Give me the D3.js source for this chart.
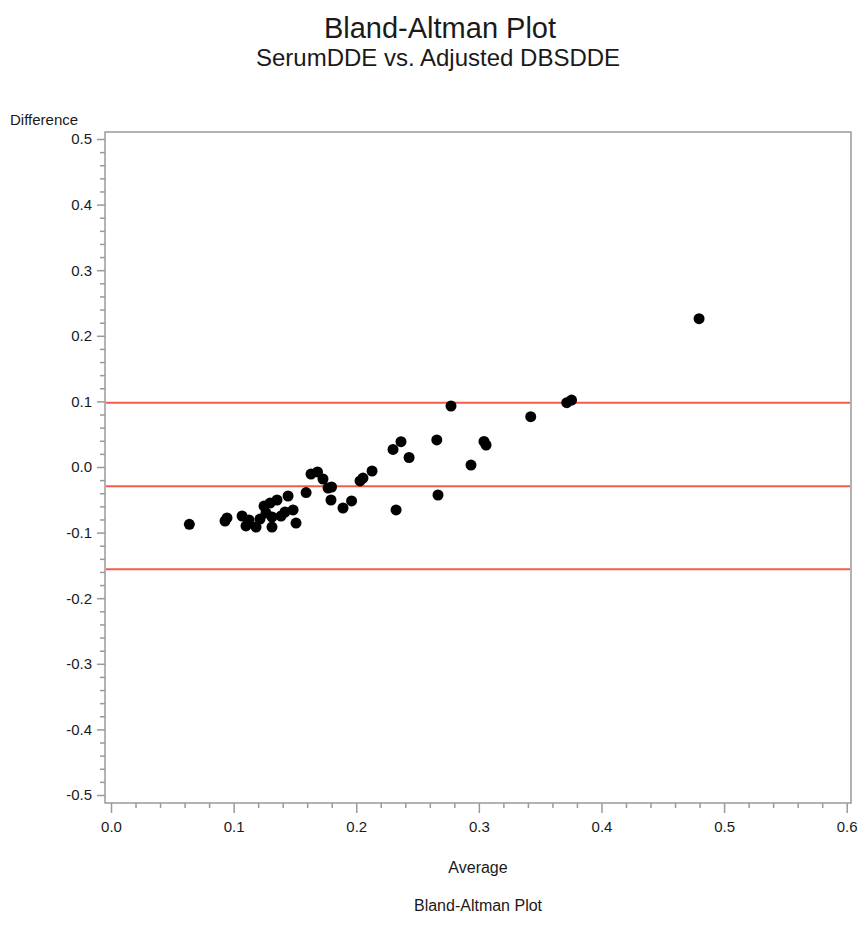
<!DOCTYPE html>
<html>
<head>
<meta charset="utf-8">
<script src="https://cdn.jsdelivr.net/npm/d3@7"></script>
<style>
  body { margin: 0; background: #fff; }
  text { font-family: "Liberation Sans", Arial, sans-serif; fill: #1a1a1a; }
</style>
</head>
<body>
<div id="chart"></div>
<script>
// data
var averages = [0.0639, 0.0930, 0.0946, 0.1069, 0.1101, 0.1126, 0.1183, 0.1215, 0.1248, 0.1264,
  0.1297, 0.1313, 0.1313, 0.1354, 0.1387, 0.1419, 0.1444, 0.1485, 0.1509, 0.1591,
  0.1631, 0.1684, 0.1729, 0.1799, 0.1794, 0.1770, 0.1892, 0.1962, 0.2031, 0.2055,
  0.2129, 0.2300, 0.2365, 0.2431, 0.2325, 0.2657, 0.2667, 0.2773, 0.2936, 0.3042,
  0.3059, 0.3423, 0.3717, 0.3756, 0.4796];
var differences = [-0.0873, -0.0823, -0.0777, -0.0747, -0.0899, -0.0808, -0.0915, -0.0793, -0.0595, -0.0701,
  -0.0549, -0.0762, -0.0915, -0.0503, -0.0747, -0.0686, -0.0442, -0.0655, -0.0854, -0.0389,
  -0.0107, -0.0076, -0.0183, -0.0305, -0.0503, -0.0320, -0.0625, -0.0518, -0.0213, -0.0168,
  -0.0061, 0.0267, 0.0386, 0.0145, -0.0655, 0.0412, -0.0427, 0.0930, 0.0030, 0.0389,
  0.0335, 0.0767, 0.0980, 0.1021, 0.2261];
// upper limit, mean difference, lower limit
var refLines = [0.098, -0.0295, -0.156];
var xTicks = [0, 0.1, 0.2, 0.3, 0.4, 0.5, 0.6];
var yTicks = [-0.5, -0.4, -0.3, -0.2, -0.1, 0, 0.1, 0.2, 0.3, 0.4, 0.5];

var svgWidth = 861;
var svgHeight = 944;

// plot frame
var frame = { left: 105, right: 851, top: 132, bottom: 803 };

var svg = d3.select("#chart")
  .append("svg")
  .attr("width", svgWidth)
  .attr("height", svgHeight);

var xScale = d3.scaleLinear()
  .domain([0, 0.6])
  .range([111, 846.7]);

var yScale = d3.scaleLinear()
  .domain([-0.5, 0.5])
  .range([795, 139]);

// minor ticks, 4 between majors (every 0.02)
var xMinor = d3.range(0, 31).filter(i => i % 5 != 0).map(i => i * 0.02);
var yMinor = d3.range(-25, 26).filter(i => Math.abs(i) % 5 != 0).map(i => i * 0.02);

// plain hyphen for negatives, like the original
var fmt = d => d3.format(".1f")(d).replace("\u2212", "-");

var axisColor = "#9a9a9a";

// frame box
svg.append("rect")
  .attr("x", frame.left)
  .attr("y", frame.top)
  .attr("width", frame.right - frame.left)
  .attr("height", frame.bottom - frame.top)
  .attr("fill", "none")
  .attr("stroke", axisColor)
  .attr("stroke-width", 1.5);

// bottom axis
var bottomAxis = d3.axisBottom(xScale)
  .tickValues(xTicks)
  .tickFormat(fmt)
  .tickSize(10)
  .tickPadding(8);

svg.append("g")
  .attr("transform", `translate(0, ${frame.bottom})`)
  .call(bottomAxis);

svg.append("g")
  .attr("transform", `translate(0, ${frame.bottom})`)
  .call(d3.axisBottom(xScale).tickValues(xMinor).tickSize(5).tickFormat(""));

// left axis
var leftAxis = d3.axisLeft(yScale)
  .tickValues(yTicks)
  .tickFormat(fmt)
  .tickSize(8)
  .tickPadding(5);

svg.append("g")
  .attr("transform", `translate(${frame.left}, 0)`)
  .call(leftAxis);

svg.append("g")
  .attr("transform", `translate(${frame.left}, 0)`)
  .call(d3.axisLeft(yScale).tickValues(yMinor).tickSize(5).tickFormat(""));

svg.selectAll(".domain").remove();
svg.selectAll(".tick line")
  .attr("stroke", axisColor)
  .attr("stroke-width", 1.5);
svg.selectAll(".tick text")
  .attr("font-size", 15)
  .attr("font-family", "Liberation Sans, Arial, sans-serif")
  .attr("fill", "#1a1a1a");

// reference lines
svg.selectAll(".ref")
  .data(refLines)
  .enter()
  .append("line")
  .attr("class", "ref")
  .attr("x1", frame.left + 1)
  .attr("x2", frame.right - 1)
  .attr("y1", d => yScale(d))
  .attr("y2", d => yScale(d))
  .attr("stroke", "#f25c48")
  .attr("stroke-width", 2);

// points
svg.selectAll(".dot")
  .data(averages)
  .enter()
  .append("circle")
  .attr("class", "dot")
  .attr("cx", d => xScale(d))
  .attr("cy", (d, i) => yScale(differences[i]))
  .attr("r", 5.5)
  .attr("fill", "#000");

// titles
svg.append("text")
  .attr("x", 440)
  .attr("y", 38)
  .attr("text-anchor", "middle")
  .attr("font-size", 29)
  .text("Bland-Altman Plot");

svg.append("text")
  .attr("x", 438)
  .attr("y", 66)
  .attr("text-anchor", "middle")
  .attr("font-size", 24)
  .text("SerumDDE vs. Adjusted DBSDDE");

svg.append("text")
  .attr("x", 10)
  .attr("y", 125)
  .attr("font-size", 15)
  .text("Difference");

svg.append("text")
  .attr("x", 478)
  .attr("y", 873)
  .attr("text-anchor", "middle")
  .attr("font-size", 16)
  .text("Average");

svg.append("text")
  .attr("x", 478)
  .attr("y", 911)
  .attr("text-anchor", "middle")
  .attr("font-size", 16)
  .text("Bland-Altman Plot");
</script>
</body>
</html>
